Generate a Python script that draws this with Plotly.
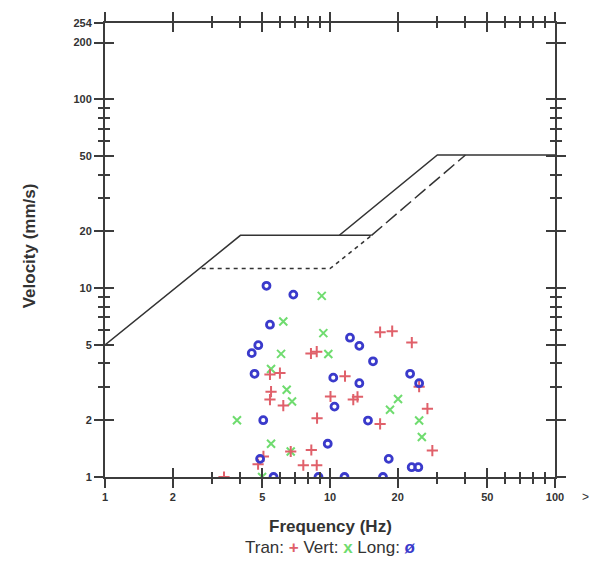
import plotly.graph_objects as go
import math

# Blast vibration limit curves (frequency Hz, peak particle velocity mm/s)
limit_solid_f = [1, 4, 11, 30, 100]
limit_solid_v = [5.0, 19.05, 19.05, 50.8, 50.8]
limit_solid_ext_f = [11, 15.3]
limit_solid_ext_v = [19.05, 19.05]
limit_dash_f = [2.69, 10, 15.3]
limit_dash_v = [12.7, 12.7, 19.05]
limit_longdash_f = [15.3, 40]
limit_longdash_v = [19.05, 50.8]

# Measured events per component
tran_f = [16.7, 18.9, 23.1, 8.23, 8.73, 5.41, 5.99, 11.66, 24.9, 5.47, 5.41, 6.20, 10.05,
          12.69, 13.25, 27.1, 8.76, 16.7, 6.69, 8.26, 28.5, 5.06, 4.79, 7.61, 8.73, 3.38]
tran_v = [5.85, 5.92, 5.15, 4.51, 4.61, 3.49, 3.55, 3.42, 3.01, 2.83, 2.57, 2.39, 2.67,
          2.57, 2.66, 2.30, 2.05, 1.91, 1.365, 1.39, 1.38, 1.285, 1.168, 1.154, 1.154, 1.0]

vert_f = [9.19, 6.20, 9.34, 6.06, 9.83, 5.47, 6.42, 6.78, 20.06, 18.48, 3.86, 24.9, 25.6,
          5.47, 6.69, 4.99]
vert_v = [9.11, 6.67, 5.78, 4.49, 4.48, 3.73, 2.90, 2.51, 2.59, 2.27, 2.00, 1.99, 1.63,
          1.50, 1.365, 1.0]

long_f = [5.22, 6.87, 5.41, 12.27, 13.50, 15.53, 4.80, 4.49, 4.62, 10.34, 13.50, 22.7, 24.9,
          10.47, 5.05, 14.75, 9.77, 4.89, 18.24, 23.07, 24.69, 5.61, 8.89, 11.60, 17.2]
long_v = [10.3, 9.25, 6.41, 5.47, 4.95, 4.10, 4.99, 4.53, 3.52, 3.36, 3.14, 3.52, 3.14,
          2.36, 2.00, 1.99, 1.50, 1.248, 1.248, 1.127, 1.127, 1.0, 1.0, 1.0, 1.0]

x_major = [1, 2, 5, 10, 20, 50, 100]
x_major_text = ["1", "2", "5", "10", "20", "50", "100"]
x_minor = [3, 4, 6, 7, 8, 9, 30, 40, 60, 70, 80, 90]
y_major = [1, 2, 5, 10, 20, 50, 100, 200, 254]
y_major_text = ["1", "2", "5", "10", "20", "50", "100", "200", "254"]
y_minor = [3, 4, 6, 7, 8, 9, 30, 40, 60, 70, 80, 90]

AX = "#3c3c3c"
LINE = "#333333"
RED = "#e0606a"
GREEN = "#6fdc6f"
BLUE = "#3a3acb"
FONT = "Liberation Sans, Arial, sans-serif"

fig = go.Figure()

fig.add_trace(go.Scatter(x=limit_solid_f, y=limit_solid_v, mode="lines",
                         line=dict(color=LINE, width=1.5), hoverinfo="skip"))
fig.add_trace(go.Scatter(x=limit_solid_ext_f, y=limit_solid_ext_v, mode="lines",
                         line=dict(color=LINE, width=1.5), hoverinfo="skip"))
fig.add_trace(go.Scatter(x=limit_dash_f, y=limit_dash_v, mode="lines",
                         line=dict(color=LINE, width=1.5, dash="4px,4px"), hoverinfo="skip"))
fig.add_trace(go.Scatter(x=limit_longdash_f, y=limit_longdash_v, mode="lines",
                         line=dict(color=LINE, width=1.5, dash="14px,5px"), hoverinfo="skip"))

fig.add_trace(go.Scatter(x=vert_f, y=vert_v, mode="markers", name="Vert",
                         marker=dict(symbol="x-thin-open", size=8, color=GREEN,
                                     line=dict(width=2))))
fig.add_trace(go.Scatter(x=tran_f, y=tran_v, mode="markers", name="Tran",
                         marker=dict(symbol="cross-thin-open", size=8, color=RED,
                                     line=dict(width=2))))
fig.add_trace(go.Scatter(x=long_f, y=long_v, mode="markers", name="Long",
                         marker=dict(symbol="circle-open", size=7, color=BLUE,
                                     line=dict(width=2.8))))

# companion axes carry the inward half of each crossing tick
fig.add_trace(go.Scatter(x=[1], y=[1], xaxis="x2", yaxis="y2", mode="markers",
                         marker=dict(opacity=0), hoverinfo="skip"))

xr = [0, 2]
yr = [0, math.log10(254)]
tickfont = dict(family=FONT, size=11, color="#333333")

common_x = dict(type="log", range=xr, showgrid=False, zeroline=False, showline=True,
                linecolor=AX, linewidth=2, mirror="ticks", tickvals=x_major,
                ticklen=9, tickwidth=2, tickcolor=AX)
common_y = dict(type="log", range=yr, showgrid=False, zeroline=False, showline=True,
                linecolor=AX, linewidth=2, mirror="ticks", tickvals=y_major,
                ticklen=9, tickwidth=2, tickcolor=AX)

fig.update_layout(
    width=605, height=569,
    margin=dict(l=105, r=50, t=14, b=92),
    paper_bgcolor="white", plot_bgcolor="white",
    showlegend=False,
    xaxis=dict(**common_x, ticks="outside", tickfont=tickfont,
               ticktext=["<b>%s</b>" % t for t in x_major_text],
               minor=dict(tickvals=x_minor, ticks="outside", ticklen=5, tickwidth=2,
                          tickcolor=AX, showgrid=False)),
    xaxis2=dict(**common_x, ticks="inside", overlaying="x", anchor="y2", side="bottom",
                showticklabels=False,
                minor=dict(tickvals=x_minor, ticks="inside", ticklen=5, tickwidth=2,
                           tickcolor=AX, showgrid=False)),
    yaxis=dict(**common_y, ticks="outside", tickfont=tickfont,
               ticktext=["<b>%s</b>" % t for t in y_major_text],
               minor=dict(tickvals=y_minor, ticks="outside", ticklen=5, tickwidth=2,
                          tickcolor=AX, showgrid=False)),
    yaxis2=dict(**common_y, ticks="inside", overlaying="y", anchor="x2", side="left",
                showticklabels=False,
                minor=dict(tickvals=y_minor, ticks="inside", ticklen=5, tickwidth=2,
                           tickcolor=AX, showgrid=False)),
    annotations=[
        dict(text="<b>Velocity (mm/s)</b>", xref="paper", yref="paper",
             x=-0.167, y=0.51, xanchor="center", yanchor="middle", textangle=-90,
             showarrow=False, font=dict(family=FONT, size=17, color="#333333")),
        dict(text="<b>Frequency (Hz)</b>", xref="paper", yref="paper",
             x=0.5, y=-0.108, xanchor="center", yanchor="middle", showarrow=False,
             font=dict(family=FONT, size=17, color="#333333")),
        dict(text="Tran: <span style='color:%s'><b>+</b></span> Vert: "
                  "<span style='color:%s'><b>x</b></span> Long: "
                  "<span style='color:%s'><b>ø</b></span>" % (RED, GREEN, BLUE),
             xref="paper", yref="paper", x=0.5, y=-0.156, xanchor="center",
             yanchor="middle", showarrow=False,
             font=dict(family=FONT, size=17, color="#333333")),
        dict(text=">", xref="paper", yref="paper", x=1.067, y=-0.043,
             xanchor="center", yanchor="middle",
             showarrow=False, font=dict(family=FONT, size=12, color="#333333")),
    ],
)

fig.write_html("out.html")
